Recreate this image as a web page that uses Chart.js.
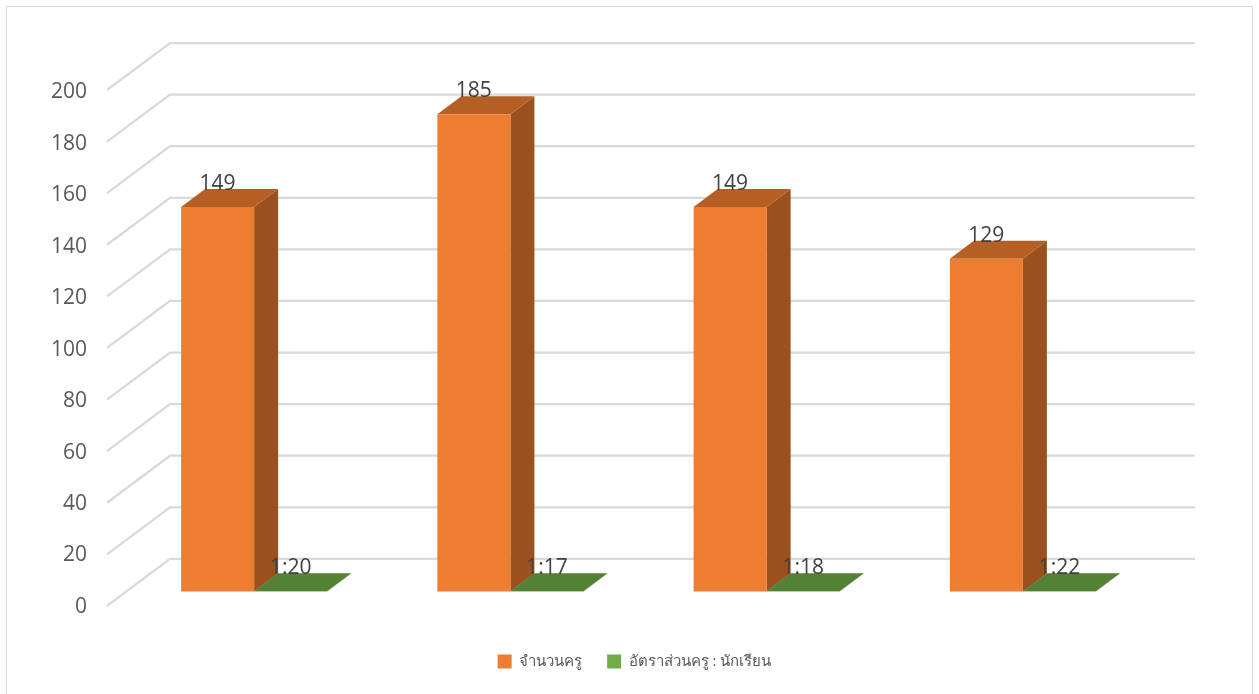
<!DOCTYPE html>
<html>
<head>
<meta charset="utf-8">
<style>
    html, body { margin: 0; padding: 0; background: #fff; overflow: hidden; }
    #wrap { position: relative; width: 1259px; height: 694px; }
    #frame { position: absolute; left: 6px; top: 6px; width: 1245px; height: 720px; border: 1.5px solid #d9d9d9; }
    canvas { position: absolute; left: 0; top: 0; }
</style>
<script src="https://cdn.jsdelivr.net/npm/chart.js@4"></script>
</head>
<body>
<div id="wrap">
    <div id="frame"></div>
    <canvas id="chart" width="1259" height="694"></canvas>
</div>
<script>
// Chart data
const categories = ['1', '2', '3', '4'];
const teacherLabel = 'จำนวนครู';
const ratioLabel = 'อัตราส่วนครู : นักเรียน';
const teacherCounts = [149, 185, 149, 129];
const ratioValues = [0.05, 0.059, 0.056, 0.045];
const ratioText = ['1:20', '1:17', '1:18', '1:22'];

const FONT = "'Open Sans', 'Noto Sans', sans-serif";

// Fake 3D: depth of a bar, and depth of the floor from back wall to front edge
const BAR_DX = 24, BAR_DY = 18;
const WALL_DX = 63, WALL_DY = 47;
const WALL_SHIFT = 44;
const LEGEND_SHIFT = 34;

const faces = [
    { top: '#b65f24', side: '#9a511d' },
    { top: '#548235', side: '#426829' }
];

function poly(ctx, pts, color) {
    ctx.fillStyle = color;
    ctx.beginPath();
    pts.forEach((p, i) => i ? ctx.lineTo(p[0], p[1]) : ctx.moveTo(p[0], p[1]));
    ctx.closePath();
    ctx.fill();
}

const fake3d = {
    id: 'fake3d',
    afterLayout(chart) {
        // legend is centred on the whole frame, not on the plot
        chart.legend.left += LEGEND_SHIFT;
        chart.legend.right += LEGEND_SHIFT;
    },
    beforeDatasetsDraw(chart) {
        const { ctx, chartArea, scales } = chart;
        const wallLeft = chartArea.left + WALL_SHIFT;
        const wallRight = chartArea.right + WALL_SHIFT;

        // Gridlines on the back wall, running down the left wall to the front
        ctx.save();
        ctx.strokeStyle = '#d9d9d9';
        ctx.lineWidth = 2.25;
        scales.yBack.ticks.forEach(t => {
            const y = scales.yBack.getPixelForValue(t.value);
            ctx.beginPath();
            ctx.moveTo(wallLeft - WALL_DX, y + WALL_DY);
            ctx.lineTo(wallLeft, y);
            ctx.lineTo(wallRight, y);
            ctx.stroke();
        });

        // Side and top faces, the library draws the front
        chart.data.datasets.forEach((ds, i) => {
            chart.getDatasetMeta(i).data.forEach(bar => {
                const l = bar.x - bar.width / 2, r = bar.x + bar.width / 2;
                const t = bar.y, b = bar.base;
                poly(ctx, [[r, t], [r + BAR_DX, t - BAR_DY], [r + BAR_DX, b - BAR_DY], [r, b]], faces[i].side);
                poly(ctx, [[l, t], [l + BAR_DX, t - BAR_DY], [r + BAR_DX, t - BAR_DY], [r, t]], faces[i].top);
            });
        });
        ctx.restore();
    },
    afterDatasetsDraw(chart) {
        const { ctx } = chart;
        const text = [teacherCounts.map(String), ratioText];
        ctx.save();
        ctx.font = '21px ' + FONT;
        ctx.fillStyle = '#404040';
        ctx.textAlign = 'center';
        ctx.textBaseline = 'middle';
        chart.data.datasets.forEach((ds, i) => {
            chart.getDatasetMeta(i).data.forEach((bar, j) => {
                ctx.fillText(text[i][j], bar.x, bar.y - 23);
            });
        });
        ctx.restore();
    }
};

new Chart(document.getElementById('chart'), {
    type: 'bar',
    data: {
        labels: categories,
        datasets: [
            { label: teacherLabel, data: teacherCounts, backgroundColor: '#ed7d31', yAxisID: 'y' },
            { label: ratioLabel, data: ratioValues, backgroundColor: '#70ad47', yAxisID: 'y' }
        ]
    },
    plugins: [fake3d],
    options: {
        responsive: false,
        animation: false,
        devicePixelRatio: 1,
        datasets: { bar: { barPercentage: 1, categoryPercentage: 0.57 } },
        layout: { padding: { left: 50, right: 108, top: 43, bottom: 15 } },
        plugins: {
            tooltip: { enabled: false },
            legend: {
                position: 'bottom',
                labels: {
                    boxWidth: 14,
                    boxHeight: 14,
                    padding: 25,
                    color: '#595959',
                    font: { family: FONT, size: 15 }
                }
            }
        },
        scales: {
            // no ticks, only keeps the gap between plot and legend
            x: {
                grid: { display: false },
                border: { display: false },
                ticks: { display: false },
                afterFit(axis) { axis.height = 23; axis.paddingLeft = 0; axis.paddingRight = 0; }
            },
            // bars stand on the front plane
            y: { display: false, min: -5.63, max: 212.62 },
            // labels sit on the front edge of the left wall
            yLabels: {
                type: 'linear',
                axis: 'y',
                position: 'left',
                min: -0.78,
                max: 217.9,
                afterFit(axis) { axis.width = 76; axis.paddingTop = 0; axis.paddingBottom = 0; },
                border: { display: false },
                grid: { display: false, drawTicks: false },
                ticks: {
                    stepSize: 20,
                    includeBounds: false,
                    padding: 39,
                    labelOffset: 3,
                    color: '#595959',
                    font: { family: FONT, size: 21 }
                }
            },
            // the back wall, gridlines only
            yBack: {
                type: 'linear',
                axis: 'y',
                display: false,
                min: -18.25,
                max: 200,
                ticks: { stepSize: 20, includeBounds: false }
            }
        }
    }
});
</script>
</body>
</html>
